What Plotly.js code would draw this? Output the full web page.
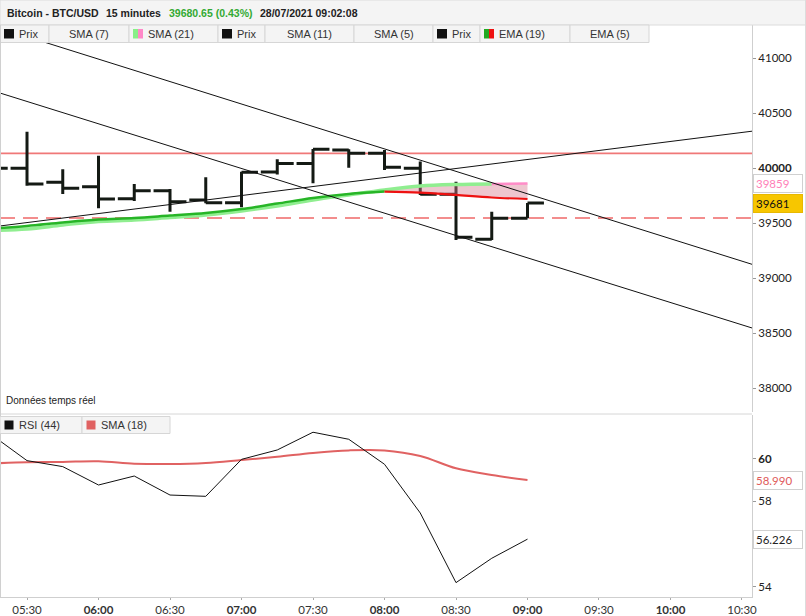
<!DOCTYPE html>
<html>
<head>
<meta charset="utf-8">
<script src="https://cdn.plot.ly/plotly-3.0.1.min.js"></script>
<style>
  html, body { margin: 0; padding: 0; background: #ffffff; }
  #chart { width: 806px; height: 616px; }
</style>
</head>
<body>
<div id="chart"></div>
<script>
// ---------- DATA ----------
const times = [
  '2021-07-28 05:15', '2021-07-28 05:30', '2021-07-28 05:45', '2021-07-28 06:00',
  '2021-07-28 06:15', '2021-07-28 06:30', '2021-07-28 06:45', '2021-07-28 07:00',
  '2021-07-28 07:15', '2021-07-28 07:30', '2021-07-28 07:45', '2021-07-28 08:00',
  '2021-07-28 08:15', '2021-07-28 08:30', '2021-07-28 08:45', '2021-07-28 09:00'
];
const openP  = [40000, 39997, 39870, 39830, 39721, 39794, 39709, 39685, 39964, 40042, 40164, 40133, 39997, 39761, 39352, 39543];
const highP  = [40050, 40330, 39988, 40112, 39855, 39809, 39915, 39967, 40079, 40173, 40170, 40164, 40058, 39876, 39603, 39681];
const lowP   = [39960, 39839, 39764, 39633, 39700, 39603, 39679, 39643, 39942, 39861, 40003, 39982, 39755, 39345, 39345, 39543];
const closeP = [39997, 39855, 39815, 39718, 39794, 39694, 39685, 39961, 40042, 40170, 40133, 40006, 39761, 39370, 39543, 39681];

const sma21 = [39432, 39445, 39482, 39514, 39527, 39550, 39573, 39609, 39655, 39709, 39755, 39800, 39836, 39850, 39855, 39859];
const ema19 = [39450, 39473, 39505, 39532, 39545, 39568, 39591, 39627, 39677, 39727, 39764, 39786, 39777, 39755, 39732, 39718];

const rsi44    = [61.12, 59.90, 59.62, 58.76, 59.18, 58.29, 58.23, 59.96, 60.40, 61.23, 60.90, 59.73, 57.45, 54.19, 55.33, 56.226];
const rsiSma18 = [59.77, 59.82, 59.84, 59.87, 59.76, 59.74, 59.79, 59.93, 60.08, 60.26, 60.38, 60.38, 60.12, 59.54, 59.23, 58.99];

// trend lines (two anchor points each)
const trendX       = ['2021-07-28 05:00', '2021-07-28 11:00'];
const upperTrendY  = [41398, 38949];
const lowerTrendY  = [40808, 38371];
const risingTrendY = [39422, 40405];

const resistanceLevel = 40133;
const supportLevel    = 39545;

const priceTicks = [38000, 38500, 39000, 39500, 40000, 40500, 41000];
const priceTickText = ['38000', '38500', '39000', '39500', '<b>40000</b>', '40500', '41000'];
const rsiTicks = [54, 58, 60];
const rsiTickText = ['54', '58', '<b>60</b>'];
const timeTicks = ['2021-07-28 05:30', '2021-07-28 06:00', '2021-07-28 06:30', '2021-07-28 07:00',
  '2021-07-28 07:30', '2021-07-28 08:00', '2021-07-28 08:30', '2021-07-28 09:00',
  '2021-07-28 09:30', '2021-07-28 10:00', '2021-07-28 10:30'];
const timeTickText = ['05:30', '<b>06:00</b>', '06:30', '<b>07:00</b>', '07:30', '<b>08:00</b>',
  '08:30', '<b>09:00</b>', '09:30', '<b>10:00</b>', '10:30'];

const headerParts = ['Bitcoin - BTC/USD', '15 minutes', '39680.65 (0.43%)', '28/07/2021 09:02:08'];
const legendTop = ['Prix', 'SMA (7)', 'SMA (21)', 'Prix', 'SMA (11)', 'SMA (5)', 'Prix', 'EMA (19)', 'EMA (5)'];
const legendRsi = ['RSI (44)', 'SMA (18)'];

// ---------- LAYOUT HELPERS ----------
const W = 806, H = 616, ML = 0, MR = 54, MT = 25, MB = 19;
const PW = W - ML - MR, PH = H - MT - MB;
const px = v => (v - ML) / PW;
const py = v => (H - MB - v) / PH;

const split = 11;    // 08:00
const pinkFrom = 14; // 08:45

const traces = [
  // fill between EMA and SMA (08:00 -> 09:00)
  { x: times.slice(split), y: ema19.slice(split), type: 'scatter', mode: 'lines',
    line: { width: 0, color: 'rgba(0,0,0,0)', shape: 'spline' }, xaxis: 'x', yaxis: 'y', hoverinfo: 'skip' },
  { x: times.slice(split), y: sma21.slice(split), type: 'scatter', mode: 'lines', fill: 'tonexty',
    fillcolor: 'rgba(214,120,140,0.42)', line: { width: 0, color: 'rgba(0,0,0,0)', shape: 'spline' }, xaxis: 'x', yaxis: 'y', hoverinfo: 'skip' },
  // SMA 21
  { x: times.slice(0, pinkFrom + 1), y: sma21.slice(0, pinkFrom + 1), type: 'scatter', mode: 'lines',
    line: { width: 3.5, color: '#90ee90', shape: 'spline' }, xaxis: 'x', yaxis: 'y' },
  { x: times.slice(pinkFrom), y: sma21.slice(pinkFrom), type: 'scatter', mode: 'lines',
    line: { width: 2.5, color: '#ff8cc8' }, xaxis: 'x', yaxis: 'y' },
  // EMA 19
  { x: times.slice(0, split + 1), y: ema19.slice(0, split + 1), type: 'scatter', mode: 'lines',
    line: { width: 2.5, color: '#27b527', shape: 'spline' }, xaxis: 'x', yaxis: 'y' },
  { x: times.slice(split), y: ema19.slice(split), type: 'scatter', mode: 'lines',
    line: { width: 2.2, color: '#ee1111', shape: 'spline' }, xaxis: 'x', yaxis: 'y' },
  // trend lines
  { x: trendX, y: upperTrendY, type: 'scatter', mode: 'lines', line: { width: 1, color: '#111' }, xaxis: 'x', yaxis: 'y' },
  { x: trendX, y: lowerTrendY, type: 'scatter', mode: 'lines', line: { width: 1, color: '#111' }, xaxis: 'x', yaxis: 'y' },
  { x: trendX, y: risingTrendY, type: 'scatter', mode: 'lines', line: { width: 1, color: '#111' }, xaxis: 'x', yaxis: 'y' },
  // price bars
  { x: times, open: openP, high: highP, low: lowP, close: closeP, type: 'ohlc', tickwidth: 0.46,
    increasing: { line: { color: '#141a14', width: 3 } }, decreasing: { line: { color: '#141a14', width: 3 } },
    xaxis: 'x', yaxis: 'y' },
  // RSI
  { x: times, y: rsiSma18, type: 'scatter', mode: 'lines', line: { width: 2, color: '#e06262', shape: 'spline' }, xaxis: 'x', yaxis: 'y2' },
  { x: times, y: rsi44, type: 'scatter', mode: 'lines', line: { width: 1, color: '#111' }, xaxis: 'x', yaxis: 'y2' }
];

const shapes = [];
const annotations = [];

// horizontal levels
shapes.push({ type: 'line', xref: 'paper', yref: 'y', x0: 0, x1: 1, y0: resistanceLevel, y1: resistanceLevel,
  line: { color: '#f07878', width: 1.8 }, layer: 'below' });
shapes.push({ type: 'line', xref: 'paper', yref: 'y', x0: 0, x1: 1, y0: supportLevel, y1: supportLevel,
  line: { color: '#f06868', width: 1.5, dash: '15px,8px' }, layer: 'below' });

// header band
shapes.push({ type: 'rect', xref: 'paper', yref: 'paper', x0: px(0), x1: px(806), y0: py(25), y1: py(0),
  fillcolor: '#f4f4f4', line: { color: '#dcdcdc', width: 1 }, layer: 'above' });
const headerX = [5, 104, 167, 258];
const headerColors = ['#222', '#222', '#33aa33', '#222'];
headerParts.forEach((t, i) => annotations.push({ xref: 'paper', yref: 'paper', x: px(headerX[i]), y: py(13),
  xanchor: 'left', yanchor: 'middle', showarrow: false, text: '<b>' + t + '</b>',
  font: { family: 'Liberation Sans, Arial', size: 10.5, color: headerColors[i] } }));

// top legend cells
const cellEdges = [0, 49, 129, 218, 265, 354, 433, 480, 570, 649];
const cellSwatch = [['#111', '#111'], null, ['#88f088', '#ff88c8'], ['#111', '#111'], null, null, ['#111', '#111'], ['#22aa22', '#ee1111'], null];
legendTop.forEach((t, i) => {
  const a = cellEdges[i], b = cellEdges[i + 1];
  shapes.push({ type: 'rect', xref: 'paper', yref: 'paper', x0: px(a), x1: px(b), y0: py(42.5), y1: py(25),
    fillcolor: '#f4f4f4', line: { color: '#d6d6d6', width: 1 }, layer: 'above' });
  const sw = cellSwatch[i];
  if (sw) {
    shapes.push({ type: 'rect', xref: 'paper', yref: 'paper', x0: px(a + 4), x1: px(a + 9), y0: py(38.5), y1: py(29),
      fillcolor: sw[0], line: { width: 0 }, layer: 'above' });
    shapes.push({ type: 'rect', xref: 'paper', yref: 'paper', x0: px(a + 9), x1: px(a + 14), y0: py(38.5), y1: py(29),
      fillcolor: sw[1], line: { width: 0 }, layer: 'above' });
    annotations.push({ xref: 'paper', yref: 'paper', x: px(a + 17), y: py(34), xanchor: 'left', yanchor: 'middle', showarrow: false,
      text: t, font: { family: 'Liberation Sans, Arial', size: 11, color: '#333' } });
  } else {
    annotations.push({ xref: 'paper', yref: 'paper', x: px((a + b) / 2), y: py(34), xanchor: 'center', yanchor: 'middle', showarrow: false,
      text: t, font: { family: 'Liberation Sans, Arial', size: 11, color: '#333' } });
  }
});

// panel borders
shapes.push({ type: 'line', xref: 'paper', yref: 'paper', x0: px(0), x1: px(752), y0: py(414), y1: py(414),
  line: { color: '#d6d6d6', width: 1 }, layer: 'above' });
shapes.push({ type: 'line', xref: 'paper', yref: 'paper', x0: px(0.5), x1: px(0.5), y0: py(597), y1: py(25),
  line: { color: '#d0d0d0', width: 1 }, layer: 'above' });
shapes.push({ type: 'line', xref: 'paper', yref: 'paper', x0: px(805.5), x1: px(805.5), y0: py(616), y1: py(0),
  line: { color: '#dcdcdc', width: 1 }, layer: 'above' });

// RSI legend cells
const rsiEdges = [0, 82, 170];
const rsiSw = ['#111', '#e06262'];
legendRsi.forEach((t, i) => {
  const a = rsiEdges[i], b = rsiEdges[i + 1];
  shapes.push({ type: 'rect', xref: 'paper', yref: 'paper', x0: px(a), x1: px(b), y0: py(433.5), y1: py(416.5),
    fillcolor: '#f4f4f4', line: { color: '#d6d6d6', width: 1 }, layer: 'above' });
  shapes.push({ type: 'rect', xref: 'paper', yref: 'paper', x0: px(a + 4.5), x1: px(a + 13.5), y0: py(429.5), y1: py(420.5),
    fillcolor: rsiSw[i], line: { width: 0 }, layer: 'above' });
  annotations.push({ xref: 'paper', yref: 'paper', x: px(a + 17), y: py(425), xanchor: 'left', yanchor: 'middle', showarrow: false,
    text: t, font: { family: 'Liberation Sans, Arial', size: 11, color: '#333' } });
});

annotations.push({ xref: 'paper', yref: 'paper', x: px(4), y: py(400), xanchor: 'left', yanchor: 'middle', showarrow: false,
  text: 'Données temps réel', font: { family: 'Liberation Sans, Arial', size: 10, color: '#222' } });

// last value labels
const lab = (yref, yv, txt, col, bg) => annotations.push({ xref: 'paper', yref: yref, x: px(753), y: yv,
  xanchor: 'left', yanchor: 'middle', showarrow: false, text: txt, bgcolor: bg, bordercolor: bg === '#ffffff' ? '#d0d0d0' : '#e8b800',
  borderwidth: 1, borderpad: 2, width: 44, align: 'left',
  font: { family: 'Lato, sans-serif', size: 11.5, color: col } });
lab('y', sma21[15], String(sma21[15]), '#ff80b8', '#ffffff');
lab('y', closeP[15], String(closeP[15]), '#111', '#f7c600');
lab('y2', rsiSma18[15], rsiSma18[15].toFixed(3), '#e05a5a', '#ffffff');
lab('y2', rsi44[15], rsi44[15].toFixed(3), '#222', '#ffffff');

const layout = {
  width: W, height: H,
  margin: { l: ML, r: MR, t: MT, b: MB, pad: 0 },
  paper_bgcolor: '#ffffff', plot_bgcolor: '#ffffff',
  showlegend: false,
  xaxis: {
    type: 'date', domain: [0, 1], anchor: 'y2',
    range: ['2021-07-28 05:18:40', '2021-07-28 10:34:12'],
    tickvals: timeTicks, ticktext: timeTickText,
    ticks: 'outside', ticklen: 2, tickcolor: '#aaa',
    showline: true, linecolor: '#cfcfcf', linewidth: 1, mirror: false,
    showgrid: false, zeroline: false,
    rangeslider: { visible: false },
    tickfont: { family: 'Lato, sans-serif', size: 11.5, color: '#333' }
  },
  yaxis: {
    domain: [(H - MB - 412) / PH, 1], anchor: 'x', side: 'right',
    range: [37781.8, 41300],
    tickvals: priceTicks, ticktext: priceTickText,
    ticks: 'outside', ticklen: 3, tickcolor: '#999',
    showline: true, linecolor: '#cfcfcf', linewidth: 1,
    showgrid: false, zeroline: false,
    tickfont: { family: 'Lato, sans-serif', size: 11.5, color: '#222' }
  },
  yaxis2: {
    domain: [0, (H - MB - 415) / PH], anchor: 'x', side: 'right',
    range: [53.518, 62.036],
    tickvals: rsiTicks, ticktext: rsiTickText,
    ticks: 'outside', ticklen: 3, tickcolor: '#999',
    showline: true, linecolor: '#cfcfcf', linewidth: 1,
    showgrid: false, zeroline: false,
    tickfont: { family: 'Lato, sans-serif', size: 11.5, color: '#222' }
  },
  shapes: shapes,
  annotations: annotations
};

Plotly.newPlot('chart', traces, layout, { staticPlot: true, displayModeBar: false });
</script>
</body>
</html>
